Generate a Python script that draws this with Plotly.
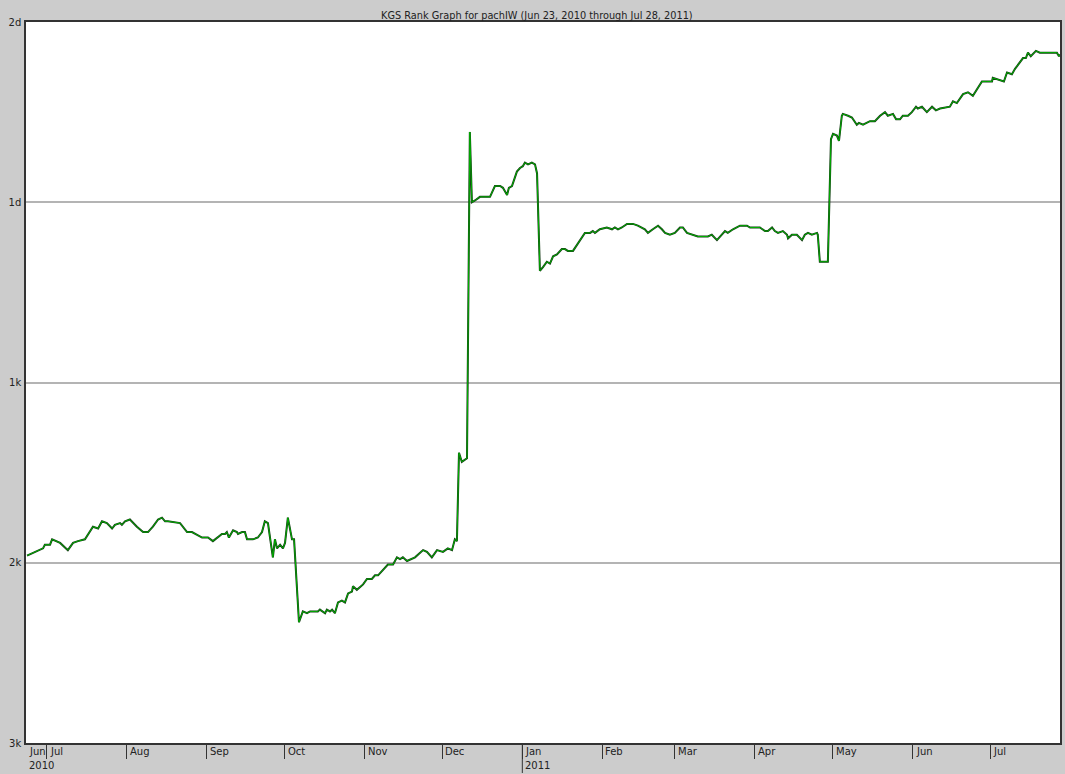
import pandas as pd
import plotly.graph_objects as go

# ---- data (days since 2010-06-23, rank value: 1k=0, 1d=1, 2k=-1 ...) ----
start_date = "2010-06-23"
end_date = "2011-07-28"

days = [0.4, 6.6, 7.3, 9.3, 10.1, 13.2, 16.2, 18.2, 20.1, 22.8, 25.9, 27.9, 29.4, 31.3, 33.3, 34.4,
        36.4, 37.1, 38.3, 40.2, 42.9, 45.3, 47.2, 49.1, 51.1, 52.6, 53.8, 54.9, 59.6, 62.3, 64.2,
        65.4, 68.1, 69.2, 70.4, 72.3, 73.9, 75.8, 77.0, 77.7, 78.5, 80.1, 81.6, 82.0, 83.6, 84.7,
        85.5, 87.8, 89.7, 91.3, 92.4, 93.6, 94.4, 95.5, 96.3, 97.1, 98.3, 99.4, 100.2, 101.3,
        102.9, 103.7, 105.6, 107.1, 108.7, 109.9, 112.9, 113.7, 115.7, 116.4, 117.6, 118.4, 119.5,
        120.7, 122.2, 123.4, 124.6, 126.1, 126.5, 128.0, 130.4, 131.9, 133.8, 135.0, 136.2, 138.1,
        140.0, 142.0, 143.5, 144.7, 145.8, 147.4, 149.3, 150.5, 153.6, 155.1, 157.0, 159.0, 161.3,
        163.2, 164.8, 165.9, 166.7, 167.5, 168.6, 170.6, 171.7, 172.5, 173.7, 175.6, 179.5, 181.4,
        183.4, 184.5, 186.1, 186.8, 188.0, 189.9, 191.1, 192.2, 193.0, 194.2, 195.7, 196.9, 197.7,
        198.8, 200.0, 201.5, 202.7, 203.9, 205.4, 207.3, 208.5, 209.6, 211.6, 213.5, 216.2, 218.2,
        219.3, 220.1, 222.0, 224.7, 226.7, 227.8, 229.0, 230.5, 232.5, 234.8, 236.7, 239.4, 240.6,
        242.5, 244.5, 246.0, 247.2, 249.1, 251.0, 253.0, 254.1, 255.7, 258.0, 259.9, 263.8, 265.3,
        267.3, 268.4, 270.4, 271.5, 273.5, 276.2, 277.4, 278.9, 280.1, 282.8, 283.9, 285.9, 287.0,
        288.6, 289.7, 290.9, 292.8, 294.4, 294.8, 296.3, 298.2, 300.2, 301.3, 302.5, 304.0, 306.0,
        306.3, 307.1, 310.2, 311.4, 312.2, 313.7, 314.5, 315.6, 316.0, 318.0, 319.5, 321.4, 322.2,
        323.8, 326.5, 328.4, 330.4, 332.3, 333.4, 335.4, 336.6, 338.1, 339.2, 341.2, 342.7, 344.3,
        345.0, 346.6, 348.5, 350.5, 352.0, 353.6, 356.3, 357.4, 358.6, 360.1, 362.5, 364.4, 366.3,
        367.9, 369.8, 371.7, 373.7, 374.0, 376.0, 377.5, 378.3, 379.5, 381.4, 382.6, 384.5, 385.7,
        386.8, 387.6, 388.7, 390.7, 392.2, 398.8, 399.6, 400.0]

rank = [-0.96, -0.92, -0.90, -0.90, -0.87, -0.89, -0.93, -0.89, -0.88, -0.87, -0.80, -0.81, -0.77,
        -0.78, -0.81, -0.79, -0.78, -0.79, -0.77, -0.76, -0.80, -0.83, -0.83, -0.80, -0.76, -0.75,
        -0.77, -0.77, -0.78, -0.83, -0.83, -0.84, -0.86, -0.86, -0.86, -0.88, -0.86, -0.84, -0.84,
        -0.83, -0.86, -0.82, -0.83, -0.84, -0.83, -0.83, -0.87, -0.87, -0.86, -0.83, -0.77, -0.78,
        -0.86, -0.97, -0.87, -0.92, -0.90, -0.92, -0.89, -0.75, -0.87, -0.87, -1.33, -1.27, -1.28,
        -1.27, -1.27, -1.26, -1.28, -1.26, -1.27, -1.26, -1.28, -1.22, -1.21, -1.22, -1.17, -1.16,
        -1.13, -1.15, -1.12, -1.09, -1.09, -1.07, -1.07, -1.04, -1.01, -1.01, -0.97, -0.98, -0.97,
        -0.99, -0.98, -0.97, -0.93, -0.94, -0.97, -0.93, -0.94, -0.92, -0.93, -0.87, -0.88, -0.39,
        -0.44, -0.42, 1.39, 1.00, 1.01, 1.03, 1.03, 1.09, 1.09, 1.08, 1.04, 1.08, 1.09, 1.17, 1.19,
        1.20, 1.22, 1.21, 1.22, 1.21, 1.16, 0.62, 0.64, 0.67, 0.66, 0.70, 0.71, 0.74, 0.74, 0.73,
        0.73, 0.77, 0.83, 0.83, 0.84, 0.83, 0.85, 0.86, 0.85, 0.86, 0.85, 0.86, 0.88, 0.88, 0.87,
        0.85, 0.83, 0.85, 0.87, 0.85, 0.83, 0.82, 0.83, 0.86, 0.86, 0.83, 0.82, 0.81, 0.81, 0.82,
        0.79, 0.81, 0.84, 0.83, 0.85, 0.87, 0.87, 0.87, 0.86, 0.86, 0.86, 0.84, 0.84, 0.86, 0.84,
        0.83, 0.84, 0.82, 0.80, 0.82, 0.82, 0.79, 0.82, 0.83, 0.82, 0.83, 0.82, 0.67, 0.67, 1.35,
        1.38, 1.37, 1.34, 1.48, 1.49, 1.48, 1.47, 1.43, 1.44, 1.43, 1.45, 1.45, 1.48, 1.50, 1.48,
        1.49, 1.46, 1.46, 1.48, 1.48, 1.50, 1.53, 1.52, 1.53, 1.50, 1.53, 1.51, 1.52, 1.53, 1.53,
        1.56, 1.55, 1.60, 1.61, 1.59, 1.63, 1.67, 1.67, 1.67, 1.69, 1.68, 1.67, 1.67, 1.72, 1.71,
        1.74, 1.78, 1.80, 1.80, 1.83, 1.81, 1.84, 1.83, 1.83, 1.81, 1.82]

rank_tick_vals = [-2, -1, 0, 1, 2]
rank_tick_text = ["3k", "2k", "1k", "1d", "2d"]

month_ticks = ["2010-07-01", "2010-08-01", "2010-09-01", "2010-10-01", "2010-11-01",
               "2010-12-01", "2011-01-01", "2011-02-01", "2011-03-01", "2011-04-01",
               "2011-05-01", "2011-06-01", "2011-07-01"]
month_labels = ["Jul", "Aug", "Sep", "Oct", "Nov", "Dec", "Jan", "Feb", "Mar", "Apr",
                "May", "Jun", "Jul"]
first_label = "Jun"
year_labels = [(start_date, "2010"), ("2011-01-01", "2011")]

title_text = "KGS Rank Graph for pachIW (Jun 23, 2010 through Jul 28, 2011)"

# ---- figure ----
dates = pd.Timestamp(start_date) + pd.to_timedelta(days, unit="D")

FONT = "DejaVu Sans"
fig = go.Figure()
fig.add_trace(go.Scatter(x=dates, y=rank, mode="lines",
                         line=dict(color="#183a18", width=2.0), hoverinfo="skip"))
fig.add_trace(go.Scatter(x=dates, y=rank, mode="lines",
                         line=dict(color="#00b000", width=1.0)))

annotations = []
for d, lab in zip([start_date] + month_ticks, [first_label] + month_labels):
    annotations.append(dict(x=d, y=0, xref="x", yref="paper", text=lab, showarrow=False,
                            xanchor="left", yanchor="top", xshift=1, yshift=-1,
                            font=dict(family=FONT, size=10, color="#222")))
for d, lab in year_labels:
    annotations.append(dict(x=d, y=0, xref="x", yref="paper", text=lab, showarrow=False,
                            xanchor="left", yanchor="top", xshift=1, yshift=-15,
                            font=dict(family=FONT, size=10, color="#222")))
annotations.append(dict(x=0.5, y=1, xref="paper", yref="paper", text=title_text,
                        showarrow=False, xanchor="center", yanchor="bottom",
                        xshift=-6, yshift=-1,
                        font=dict(family=FONT, size=9.75, color="#222")))

shapes = [dict(type="line", xref="x", yref="paper", x0="2011-01-01", x1="2011-01-01",
               ysizemode="pixel", yanchor=0, y0=0, y1=-30,
               line=dict(color="#333", width=1))]

fig.update_layout(
    width=1065, height=774,
    margin=dict(l=26, r=5, t=22, b=31, autoexpand=False),
    paper_bgcolor="#cccccc", plot_bgcolor="#ffffff",
    showlegend=False,
    annotations=annotations,
    shapes=shapes,
)
fig.update_xaxes(type="date", range=[start_date, end_date], automargin=False,
                 tickvals=month_ticks, showticklabels=False,
                 ticks="outside", ticklen=14, tickcolor="#333", tickwidth=1,
                 showgrid=False, zeroline=False,
                 showline=True, mirror=True, linecolor="#333", linewidth=1.5)
fig.update_yaxes(range=[-2, 2], tickvals=rank_tick_vals, ticktext=rank_tick_text,
                 automargin=False,
                 ticks="", showgrid=True, gridcolor="#b4b4b4", gridwidth=1.5,
                 zeroline=False, showline=True, mirror=True, linecolor="#333", linewidth=1.5,
                 tickfont=dict(family=FONT, size=10, color="#222"), ticklabelstandoff=1)

page_style = ("document.body.style.margin='0';"
              "document.body.style.overflow='hidden';"
              "document.body.style.background='#cccccc';")
fig.write_html("out.html", post_script=page_style, config={"displayModeBar": False})
